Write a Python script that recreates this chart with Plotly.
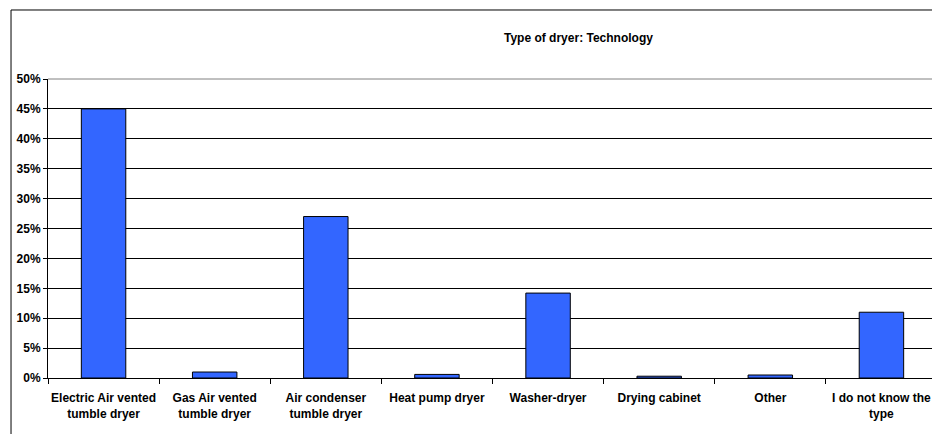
import plotly.graph_objects as go

# Survey share per dryer technology (percent)
categories = [
    "Electric Air vented<br>tumble dryer",
    "Gas Air vented<br>tumble dryer",
    "Air condenser<br>tumble dryer",
    "Heat pump dryer",
    "Washer-dryer",
    "Drying cabinet",
    "Other",
    "I do not know the<br>type",
]
shares = [45.0, 1.0, 27.0, 0.6, 14.2, 0.3, 0.5, 11.0]
y_ticks = [0, 5, 10, 15, 20, 25, 30, 35, 40, 45, 50]
y_tick_labels = [f"{v}%" for v in y_ticks]

FONT = "Liberation Sans, Arial, sans-serif"
bold = dict(family=FONT, size=12, color="black", weight="bold")

fig = go.Figure(
    go.Bar(
        x=categories,
        y=shares,
        marker=dict(color="#3366FF", line=dict(color="black", width=1)),
        hovertemplate="%{x}<br>%{y:.1f}%<extra></extra>",
    )
)

# page body adds an 8px offset, so the figure is a bit smaller than the window
fig.update_layout(
    width=932,
    height=426,
    margin=dict(l=40, r=2.5, t=71, b=56),
    paper_bgcolor="white",
    plot_bgcolor="white",
    bargap=0.6,
    showlegend=False,
    font=dict(family=FONT, size=12, color="black"),
)

fig.update_xaxes(
    type="category",
    tickson="boundaries",
    tickangle=0,
    automargin=False,
    ticks="outside",
    ticklen=5,
    ticklabelstandoff=9,
    tickcolor="black",
    showline=True,
    linecolor="black",
    linewidth=1,
    showgrid=False,
    tickfont=bold,
)
fig.update_yaxes(
    range=[0, 50],
    tickvals=y_ticks,
    ticktext=y_tick_labels,
    automargin=False,
    ticks="outside",
    ticklen=4,
    tickcolor="black",
    showline=True,
    linecolor="black",
    linewidth=1,
    gridcolor="black",
    gridwidth=1,
    zeroline=False,
    tickfont=bold,
)

# plot area border (grey top and right edges)
fig.add_shape(type="line", xref="paper", yref="paper", x0=0, x1=1, y0=1, y1=1,
              line=dict(color="#808080", width=1), layer="above")
fig.add_shape(type="line", xref="paper", yref="paper", x0=1, x1=1, y0=0, y1=1,
              line=dict(color="#808080", width=1), layer="above")

# outer chart border, cropped by the image edge on the right and bottom
fig.add_shape(type="rect", xref="paper", yref="paper",
              x0=-0.0416, x1=1.1, y0=-0.3, y1=1.2308,
              line=dict(color="black", width=1), layer="above")

fig.add_annotation(
    text="Type of dryer: Technology",
    xref="paper", yref="paper", x=0.597, y=1.137, yanchor="middle",
    showarrow=False, font=bold,
)

fig.write_html("out.html")
